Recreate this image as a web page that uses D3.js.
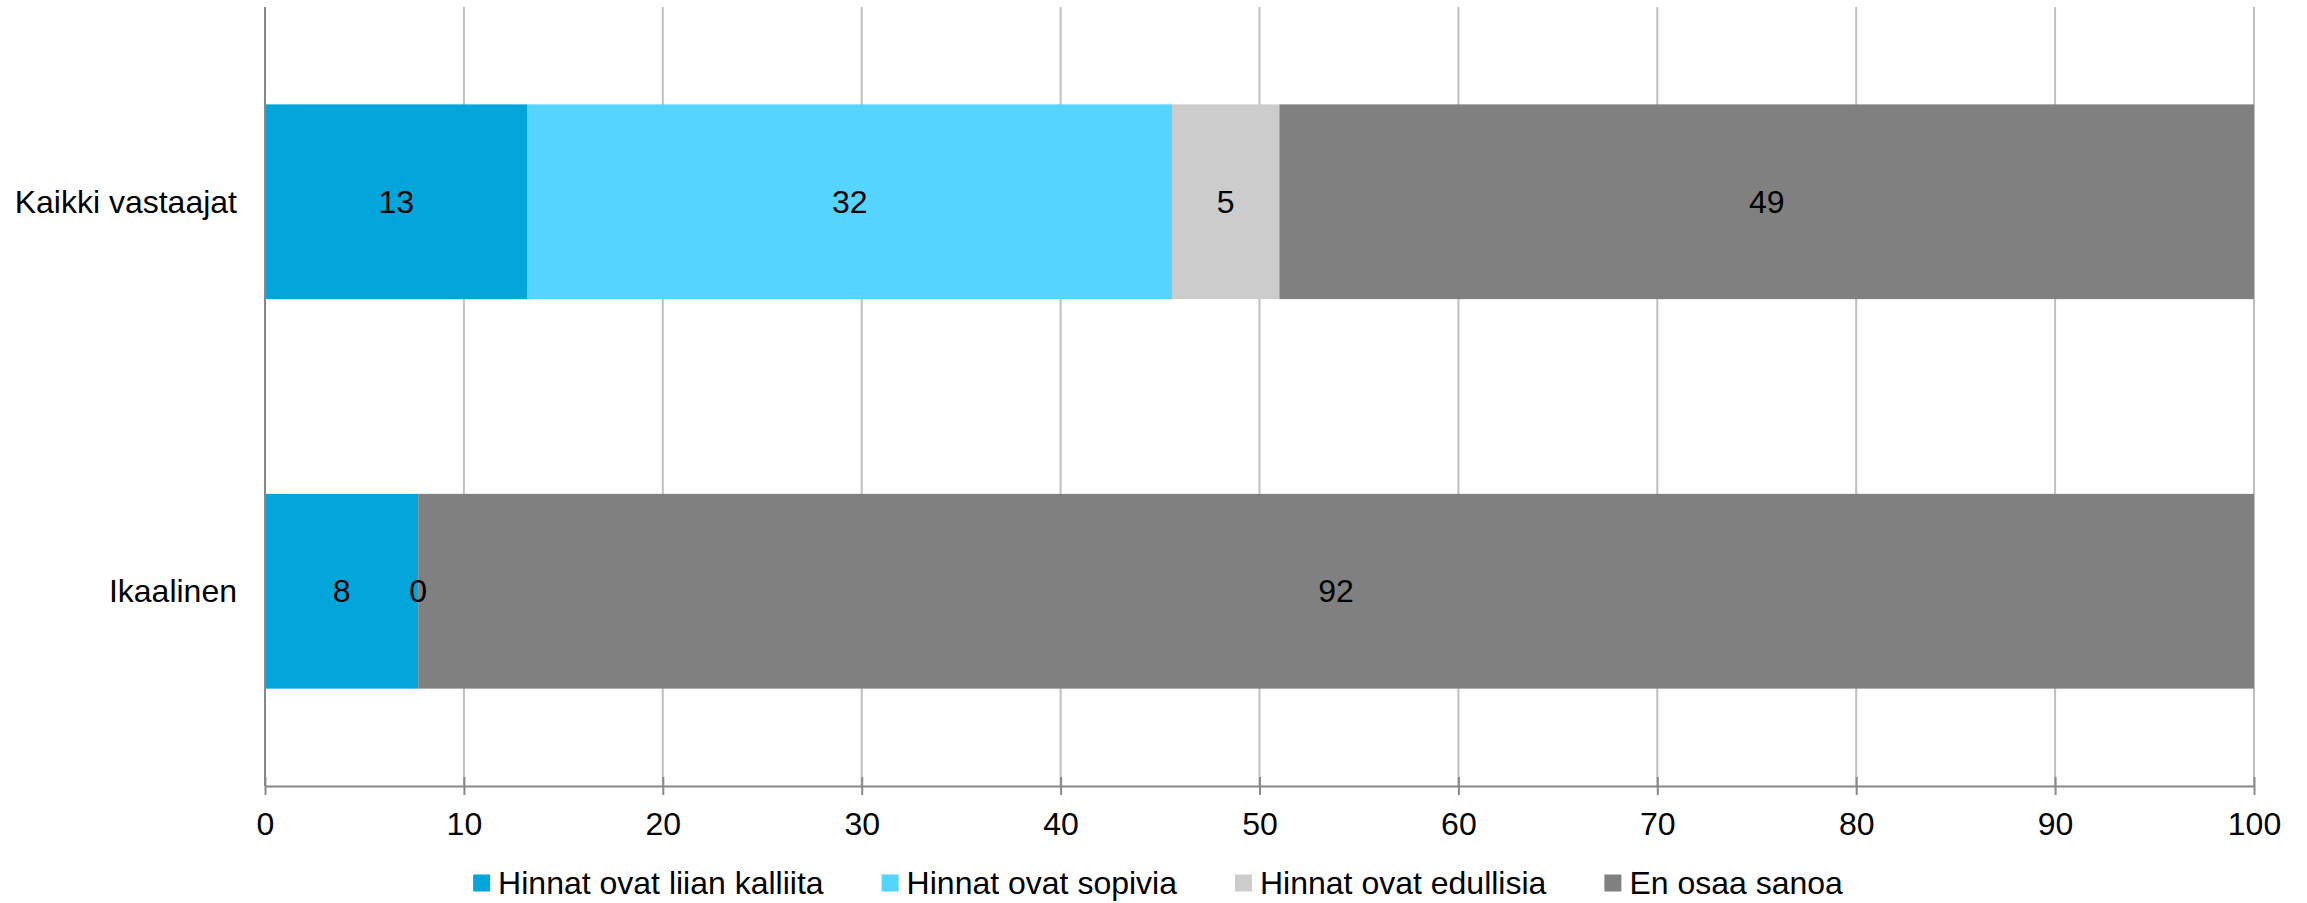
<!DOCTYPE html>
<html>
<head>
<meta charset="utf-8">
<script src="https://cdn.jsdelivr.net/npm/d3@7"></script>
<style>
  body { margin: 0; background: #fff; }
  text { font-family: "Liberation Sans", Arial, sans-serif; }
</style>
</head>
<body>
<script>
var categories = ['Kaikki vastaajat', 'Ikaalinen'];
var seriesNames = ['Hinnat ovat liian kalliita', 'Hinnat ovat sopivia',
                   'Hinnat ovat edullisia', 'En osaa sanoa'];
var kalliita  = [13.2, 7.7];
var sopivia   = [32.4, 0];
var edullisia = [5.4, null];
var enOsaa    = [49.0, 92.3];
var xTicks    = [0, 10, 20, 30, 40, 50, 60, 70, 80, 90, 100];
var colors    = ['#03A5DA', '#55D4FE', '#CCCCCC', '#808080'];

var WIDTH  = 2307;
var HEIGHT = 903;
var FONT   = 32;

var plotLeft = 265, plotRight = 2254, plotTop = 7, plotBottom = 786;

var svg = d3.select('body')
            .append('svg')
            .attr('width', WIDTH)
            .attr('height', HEIGHT);

var rows = categories.map(function(c, i) {
    return { cat: c,
             s0: kalliita[i], s1: sopivia[i], s2: edullisia[i], s3: enOsaa[i] };
});
var keys = ['s0', 's1', 's2', 's3'];

var stack = d3.stack()
              .keys(keys)
              .value(function(d, k) { return d[k] == null ? 0 : d[k]; });
var layers = stack(rows);

var x = d3.scaleLinear()
          .domain([0, 100])
          .range([plotLeft, plotRight]);

var y = d3.scaleBand()
          .domain(categories)
          .range([plotTop, plotBottom])
          .paddingInner(0.5)
          .paddingOuter(0.25);

// gridlines
svg.append('g')
   .selectAll('line')
   .data(xTicks.slice(1))
   .enter()
 .append('line')
   .attr('x1', x).attr('x2', x)
   .attr('y1', plotTop).attr('y2', plotBottom)
   .attr('stroke', '#BFBFBF')
   .attr('stroke-width', 2);

// bars
var groups = svg.selectAll('g.layer')
                .data(layers)
                .enter()
              .append('g')
                .attr('class', 'layer')
                .attr('fill', function(d, i) { return colors[i]; });

groups.selectAll('rect')
      .data(function(d) { return d; })
      .enter()
    .append('rect')
      .attr('x', function(d) { return x(d[0]); })
      .attr('width', function(d) { return x(d[1]) - x(d[0]); })
      .attr('y', function(d) { return y(d.data.cat); })
      .attr('height', y.bandwidth());

// value labels (drawn after all bars so zero-width ones stay visible)
var labelData = [];
layers.forEach(function(layer) {
    layer.forEach(function(d) {
        var v = d.data[layer.key];
        if (v != null) labelData.push({ a: d[0], b: d[1], cat: d.data.cat, v: v });
    });
});
svg.append('g')
   .selectAll('text')
   .data(labelData)
   .enter()
 .append('text')
   .attr('x', function(d) { return x((d.a + d.b) / 2); })
   .attr('y', function(d) { return y(d.cat) + y.bandwidth() / 2; })
   .attr('dy', '0.35em')
   .attr('text-anchor', 'middle')
   .attr('fill', '#000')
   .style('font-size', FONT + 'px')
   .text(function(d) { return d3.format('.0f')(d.v); });

// x axis
var xAxis = svg.append('g')
               .attr('transform', 'translate(0,' + plotBottom + ')')
               .call(d3.axisBottom(x)
                       .tickValues(xTicks)
                       .tickSizeInner(9)
                       .tickSizeOuter(0)
                       .tickPadding(17));
xAxis.select('.domain').attr('stroke', '#888888').attr('stroke-width', 2);
xAxis.selectAll('.tick line')
     .attr('y1', -9)
     .attr('stroke', '#888888')
     .attr('stroke-width', 2);
xAxis.selectAll('.tick text')
     .attr('fill', '#000')
     .style('font-size', FONT + 'px')
     .style('font-family', '"Liberation Sans", Arial, sans-serif');

// y axis line
svg.append('line')
   .attr('x1', plotLeft).attr('x2', plotLeft)
   .attr('y1', plotTop).attr('y2', plotBottom)
   .attr('stroke', '#888888')
   .attr('stroke-width', 2);

// category labels
svg.selectAll('text.cat')
   .data(categories)
   .enter()
 .append('text')
   .attr('class', 'cat')
   .attr('x', plotLeft - 28)
   .attr('y', function(d) { return y(d) + y.bandwidth() / 2; })
   .attr('dy', '0.35em')
   .attr('text-anchor', 'end')
   .style('font-size', FONT + 'px')
   .text(function(d) { return d; });

// legend
var legend = svg.append('g');
var items = legend.selectAll('g')
                  .data(seriesNames)
                  .enter()
                .append('g');
items.append('rect')
     .attr('width', 17)
     .attr('height', 17)
     .attr('y', -8.5)
     .attr('fill', function(d, i) { return colors[i]; });
items.append('text')
     .attr('x', 25)
     .attr('dy', '0.35em')
     .style('font-size', FONT + 'px')
     .text(function(d) { return d; });

var pos = 0;
items.each(function() {
    var w = 25 + this.querySelector('text').getComputedTextLength();
    d3.select(this).attr('transform', 'translate(' + pos + ',0)');
    pos += w + 58;
});
var total = pos - 58;
legend.attr('transform', 'translate(' + (1158 - total / 2) + ',883)');
</script>
</body>
</html>
